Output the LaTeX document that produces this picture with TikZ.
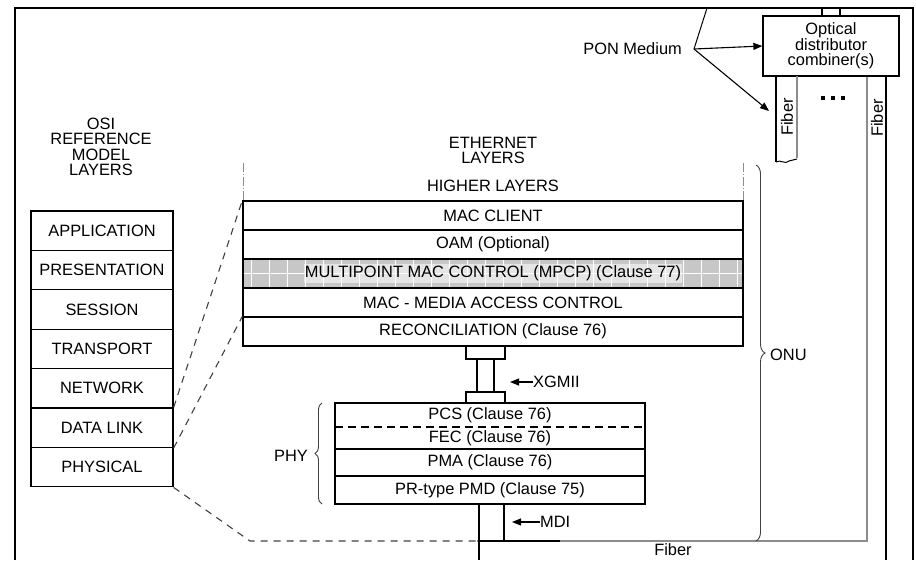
\documentclass[tikz,border=0pt]{standalone}
\usepackage{fontspec}
\setmainfont{Liberation Sans}
\usetikzlibrary{arrows.meta,decorations.pathreplacing}

\begin{document}
\begin{tikzpicture}[x=1pt,y=-1pt,
  txt/.style={font=\fontsize{16.4}{15.5}\selectfont, inner sep=0pt, align=center},
  box/.style={draw, line width=1.3pt, inner sep=0pt, txt},
  osirow/.style={box, minimum width=142pt, minimum height=39.4pt},
  ethrow/.style={box, minimum width=500pt, minimum height=29pt},
  phyrow/.style={box, minimum width=310pt},
  wire/.style={line width=1.3pt},
  greywire/.style={line width=1.3pt, draw=black!45},
  mapline/.style={line width=1.1pt, draw=black!75, dash pattern=on 7pt off 6pt},
  tick/.style={line width=0.9pt, draw=black!45, dash pattern=on 9pt off 2pt on 1pt off 2pt},
  bracket/.style={line width=0.9pt, draw=black!75, decorate},
  pointer/.style={line width=1.1pt, -{Triangle[length=9pt,width=7pt]}}
]
\useasboundingbox (0,0) rectangle (916,560);

% outer frame
\draw[line width=1.6pt] (15,560) -- (15,8) -- (913,8) -- (913,560);

% OSI reference model
\node[txt] (osihead) at (101,147) {OSI\\REFERENCE\\MODEL\\LAYERS};
\node[osirow] (osi1) at (102,230.7) {APPLICATION};
\node[osirow] (osi2) at (102,270.1) {PRESENTATION};
\node[osirow] (osi3) at (102,309.5) {SESSION};
\node[osirow] (osi4) at (102,348.9) {TRANSPORT};
\node[osirow] (osi5) at (102,388.3) {NETWORK};
\node[osirow] (osi6) at (102,427.7) {DATA LINK};
\node[osirow] (osi7) at (102,467.1) {PHYSICAL};

% Ethernet layers
\node[txt] (ethhead) at (493,150.5) {ETHERNET\\LAYERS};
\node[txt] (higher) at (493,186) {HIGHER LAYERS};
\draw[tick] (243,163) -- (243,201);
\draw[tick] (743,163) -- (743,201);

\node[ethrow] (macclient) at (493,215.5) {MAC CLIENT};
\node[ethrow] (oam) at (493,244.5) {OAM (Optional)};
% MPCP row with its grey grid fill
\begin{scope}
  \fill[black!22] (243,259) rectangle (743,288);
  \foreach \gx in {251,269,...,743} \draw[white, line width=1pt] (\gx,259) -- (\gx,288);
  \draw[white, line width=1pt] (243,273.5) -- (743,273.5);
\end{scope}
\node[ethrow] (mpcp) at (493,273.5) {};
\node[txt, fill=white, fill opacity=0.55, text opacity=1, inner xsep=1pt, inner ysep=2pt] (mpcptext) at (493,273.5) {MULTIPOINT MAC CONTROL (MPCP) (Clause 77)};
\node[ethrow] (mac) at (493,302.5) {MAC - MEDIA ACCESS CONTROL};
\node[ethrow] (recon) at (493,331.5) {RECONCILIATION (Clause 76)};

% XGMII connector
\draw[wire] (466,346) rectangle (505,359);
\draw[wire] (477,359) -- (477,392);
\draw[wire] (494,359) -- (494,392);
\draw[wire] (466,392) rectangle (505,403);
\coordinate (xgtip) at (510,382);
\node[txt, anchor=west] (xgmii) at (533,382) {XGMII};
\draw[pointer] (xgmii.west) -- (xgtip);

% PHY sublayers
\node[phyrow, minimum height=46pt] (pcsfec) at (490,426) {};
\node[txt] (pcs) at (490,415) {PCS (Clause 76)};
\node[txt] (fec) at (490,438.5) {FEC (Clause 76)};
\draw[line width=1.3pt, dash pattern=on 8pt off 5pt] (335,427) -- (645,427);
\node[phyrow, minimum height=27pt] (pma) at (490,462.5) {PMA (Clause 76)};
\node[phyrow, minimum height=28pt] (pmd) at (490,490) {PR-type PMD (Clause 75)};

\draw[bracket, decoration={brace, amplitude=7pt}] (322,504) -- (322,403);
\node[txt, anchor=east] (phy) at (308,456) {PHY};

% MDI and the fibre run back to the splitter
\coordinate (mdia) at (479,504);
\coordinate (mdib) at (504,504);
\coordinate (floorl) at (479,541);
\coordinate (floorr) at (504,541);
\coordinate (fibcorner) at (867,541);
\draw[wire] (mdia) -- (479,560);
\draw[wire] (mdib) -- (floorr);
\draw[wire] (floorl) -- (560,541);
\draw[greywire] (560,541) -- (fibcorner) -- (867,76);
\fill (floorl) circle (1.8pt);
\coordinate (mditip) at (512,522);
\node[txt, anchor=west] (mdi) at (540,522) {MDI};
\draw[pointer] (mdi.west) -- (mditip);
\node[txt] (fiberbottom) at (673,550) {Fiber};

% ONU bracket
\draw[bracket, decoration={brace, amplitude=9pt}] (756,165) -- (756,541);
\node[txt, anchor=west] (onu) at (770,355) {ONU};

% mapping between OSI and Ethernet layers
\draw[mapline] (osi6.north east) -- (macclient.north west);
\draw[mapline] (osi6.south east) -- (recon.north west);
\draw[mapline] (osi7.south east) -- (250,541) -- (floorl);

% optical distributor / combiner
\node[box, minimum width=136pt, minimum height=60pt] (odn) at (831,46) {Optical\\distributor\\combiner(s)};
\draw[wire] (822,8) -- (822,16);
\draw[wire] (840,8) -- (840,16);

% fibre drops below the combiner
\draw[wire] (776,76) -- (776,162);
\draw[greywire] (797,76) -- (797,158);
\draw[line width=1pt] (776,162) .. controls (781,159) and (785,165) .. (789,161) -- (797,159);
\node[txt, rotate=90] (fiberleft) at (787,117) {Fiber};
\draw[wire] (886,76) -- (886,560);
\node[txt, rotate=90] (fiberright) at (877,118) {Fiber};
\foreach \dx in {823,833,843} \fill (\dx-1.6,96.4) rectangle (\dx+1.6,99.6);

% PON medium pointers
\node[txt, anchor=east] (pon) at (682,49) {PON Medium};
\coordinate (ponj) at (694,49);
\coordinate (upfiber) at (707,8);
\coordinate (droptip) at (769,111);
\draw[line width=1pt] (ponj) -- (upfiber);
\draw[pointer] (ponj) -- (odn.west);
\draw[pointer] (ponj) -- (droptip);
\end{tikzpicture}
\end{document}
